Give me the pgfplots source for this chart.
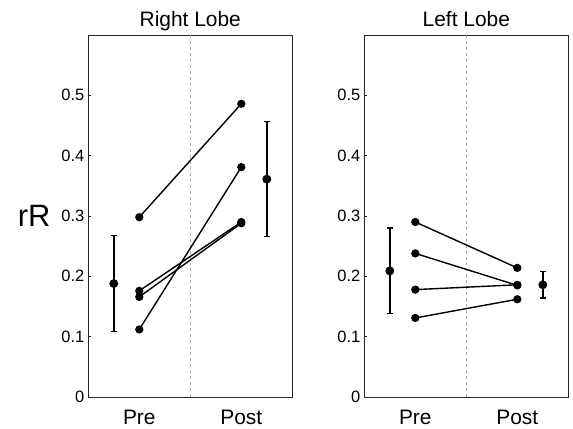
\documentclass[border=0pt]{standalone}
\usepackage{pgfplots}
\pgfplotsset{compat=1.18}
\usepackage{fontspec}
\setmainfont{Liberation Sans}

\pgfplotsset{
  lobe/.style={
    scale only axis, width=204bp, height=362bp,
    xmin=0, xmax=8, ymin=0, ymax=0.6,
    xtick={2,6}, xticklabels={Pre,Post},
    ytick={0,0.1,0.2,0.3,0.4,0.5},
    ytick pos=left,
    yticklabel style={/pgf/number format/fixed, /pgf/number format/precision=1},
    /pgf/number format/assume math mode=true,
    major tick length=3bp,
    xtick style={draw=none},
    ytick style={black!85, line width=0.8bp},
    axis line style={black!85, line width=0.9bp},
    tick label style={font=\fontsize{16.5}{17}\selectfont},
    xticklabel style={font=\fontsize{21}{22}\selectfont, anchor=base, yshift=-27bp},
    yticklabel style={xshift=-0.5bp},
    title style={font=\fontsize{21}{22}\selectfont, anchor=base, at={(0.5,1)}, yshift=2.5bp},
    clip=false,
  },
  pair/.style={black, line width=1.4bp, mark=*, mark size=3.4bp},
  meanbar/.style={black, line width=2bp, mark=*, mark size=3.4bp,
    error bars/.cd, y dir=both, y explicit,
    error bar style={line width=2bp},
    error mark options={rotate=90, mark size=2.8bp, line width=1.2bp}},
  midline/.style={black!30, dashed, line width=0.8bp, forget plot},
}

\begin{document}
\begin{tikzpicture}
\path[use as bounding box] (0,0) rectangle (573bp,429bp);

\begin{axis}[lobe, at={(88.3bp,32bp)}, anchor=south west,
  title={Right Lobe},
  ylabel={rR},
  ylabel style={rotate=-90, anchor=center, at={(axis description cs:-0.265,0.5)},
    font=\fontsize{31}{32}\selectfont}]
  \addplot[midline] coordinates {(4,0) (4,0.6)};
  \addplot[pair] coordinates {(2,0.298) (6,0.486)};
  \addplot[pair] coordinates {(2,0.112) (6,0.381)};
  \addplot[pair] coordinates {(2,0.176) (6,0.290)};
  \addplot[pair] coordinates {(2,0.166) (6,0.288)};
  \addplot[meanbar] coordinates {(1,0.188) +- (0,0.080)};
  \addplot[meanbar] coordinates {(7,0.361) +- (0,0.095)};
\end{axis}

\begin{axis}[lobe, at={(364.3bp,32bp)}, anchor=south west,
  title={Left Lobe}]
  \addplot[midline] coordinates {(4,0) (4,0.6)};
  \addplot[pair] coordinates {(2,0.290) (6,0.214)};
  \addplot[pair] coordinates {(2,0.238) (6,0.185)};
  \addplot[pair] coordinates {(2,0.178) (6,0.186)};
  \addplot[pair] coordinates {(2,0.131) (6,0.162)};
  \addplot[meanbar] coordinates {(1,0.209) +- (0,0.071)};
  \addplot[meanbar] coordinates {(7,0.186) +- (0,0.022)};
\end{axis}
\end{tikzpicture}
\end{document}
